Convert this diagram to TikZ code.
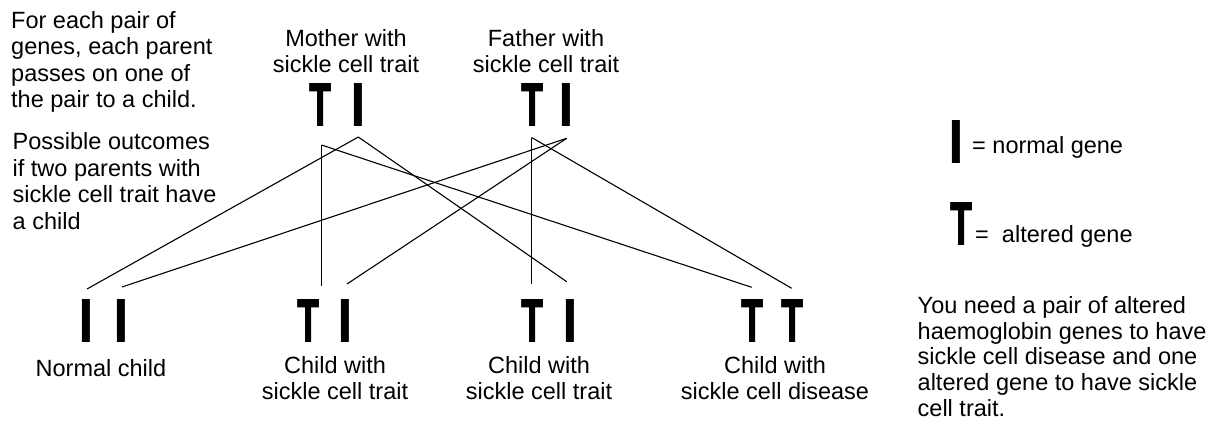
\documentclass[tikz,border=0pt]{standalone}
\usepackage{fontspec}
\usepackage{graphicx}
\setmainfont{Liberation Sans}
\newfontfamily\genefont{DejaVu Sans}
\newcommand\Tg{\scalebox{0.55}[1]{T}}
\newcommand\Ig{\scalebox{0.72}[1]{I}}
\tikzset{
  txt/.style={font=\fontsize{23.5}{26.5}\selectfont, inner sep=0pt, align=left, anchor=base west},
  lbl/.style={font=\fontsize{23.5}{25.5}\selectfont, inner sep=0pt, align=center, anchor=base},
  gene/.style={font=\genefont\bfseries\fontsize{59}{59}\selectfont, inner sep=0pt, anchor=base},
  link/.style={line width=1.1pt, black},
}
\begin{document}
\begin{tikzpicture}[x=1pt,y=-1pt]
\fill[white] (0,0) rectangle (1217,423);
\useasboundingbox (0,0) rectangle (1217,423);

% explanatory text (anchor = baseline of the last line)
\node[txt] (info1) at (11,107.5) {For each pair of\\genes, each parent\\passes on one of\\the pair to a child.};
\node[txt] (info2) at (12.5,229) {Possible outcomes\\if two parents with\\sickle cell trait have\\a child};
\node[txt, font=\fontsize{23.5}{25.8}\selectfont] (info3) at (917.5,416.5) {You need a pair of altered\\haemoglobin genes to have\\sickle cell disease and one\\altered gene to have sickle\\cell trait.};

% parents
\node[lbl] (mlab) at (346,72) {Mother with\\sickle cell trait};
\node[lbl] (flab) at (546,72) {Father with\\sickle cell trait};
\node[gene] (mT) at (321,126) {\Tg};
\node[gene] (mI) at (358,126) {\Ig};
\node[gene] (fT) at (533,126) {\Tg};
\node[gene] (fI) at (566,126) {\Ig};

% children
\node[gene] (n1) at (86,342) {\Ig};
\node[gene] (n2) at (121.5,342) {\Ig};
\node[gene] (c2T) at (309,342) {\Tg};
\node[gene] (c2I) at (345,342) {\Ig};
\node[gene] (c3T) at (532.5,342) {\Tg};
\node[gene] (c3I) at (570,342) {\Ig};
\node[gene] (c4a) at (753,342) {\Tg};
\node[gene] (c4b) at (793,342) {\Tg};

\node[lbl] (nlab) at (101,376) {Normal child};
\node[lbl] (c2lab) at (335,399) {Child with\\sickle cell trait};
\node[lbl] (c3lab) at (539,399) {Child with\\sickle cell trait};
\node[lbl] (c4lab) at (775,399) {Child with\\sickle cell disease};

% legend
\node[gene] (kI) at (956.5,163) {\Ig};
\node[txt] (kItxt) at (972,153) {= normal gene};
\node[gene] (kT) at (962,245) {\Tg};
\node[txt] (kTtxt) at (975,242) {=\ \ altered gene};

% attachment points
\coordinate (mTp) at (321.5,145);
\coordinate (mIp) at (358.3,137);
\coordinate (fTp) at (531.7,137.5);
\coordinate (fIp) at (566.7,138.3);
\coordinate (n1p) at (87,289);
\coordinate (n2p) at (122,287);
\coordinate (c2Tp) at (321.5,286);
\coordinate (c2Ip) at (347,284);
\coordinate (c3Tp) at (531.7,284);
\coordinate (c3Ip) at (566.7,281.7);
\coordinate (c4ap) at (751.7,287.3);
\coordinate (c4bp) at (791.7,288.3);

% inheritance lines
\draw[link] (mTp) -- (c2Tp);
\draw[link] (mTp) -- (c4ap);
\draw[link] (mIp) -- (n1p);
\draw[link] (mIp) -- (c3Ip);
\draw[link] (fTp) -- (c3Tp);
\draw[link] (fTp) -- (c4bp);
\draw[link] (fIp) -- (n2p);
\draw[link] (fIp) -- (c2Ip);
\end{tikzpicture}
\end{document}
